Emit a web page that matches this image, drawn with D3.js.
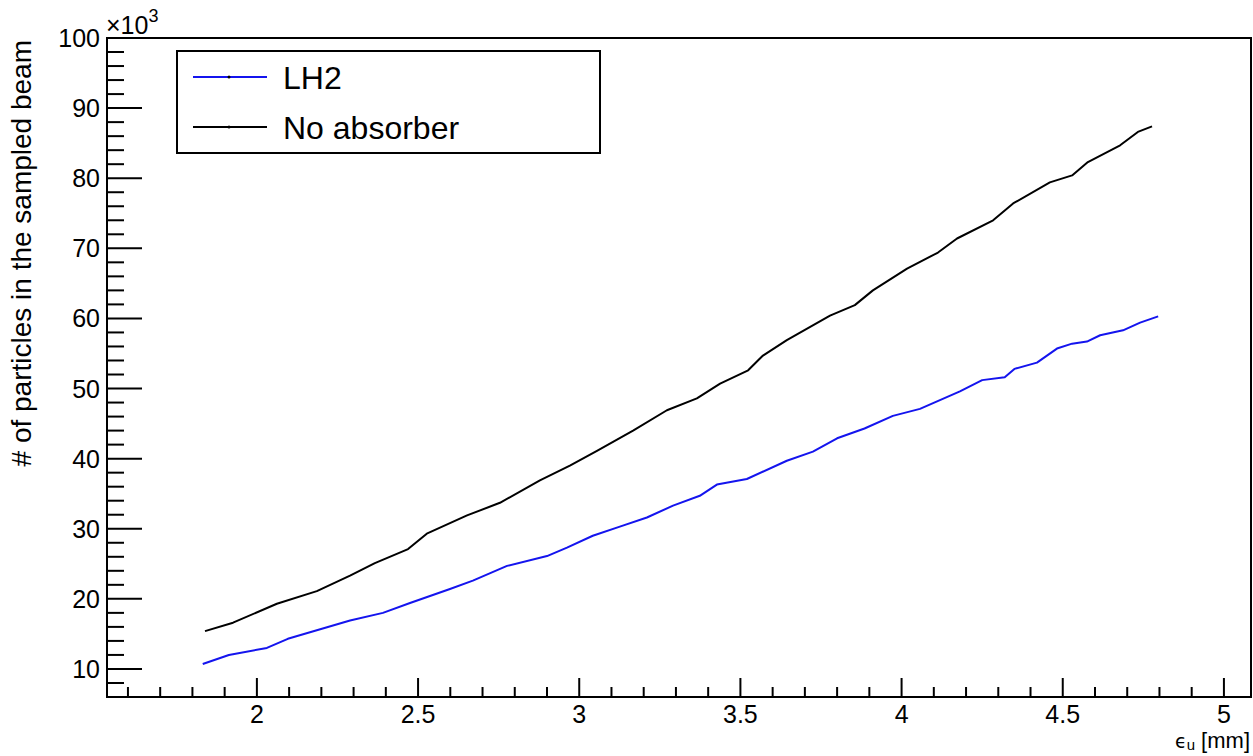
<!DOCTYPE html>
<html>
<head>
<meta charset="utf-8">
<script src="https://cdn.jsdelivr.net/npm/d3@7"></script>
<style>
  html, body { margin: 0; padding: 0; background: #fff; }
  svg { display: block; font-family: "Liberation Sans", Arial, Helvetica, sans-serif; }
</style>
</head>
<body>
<svg id="chart" width="1253" height="756"></svg>
<script>
// Emittance (mm) and number of particles (x10^3) in the sampled beam
const lh2Emittance = [1.832, 1.913, 2.031, 2.096, 2.289, 2.391, 2.475, 2.599, 2.670, 2.776,
  2.900, 2.962, 3.042, 3.126, 3.210, 3.291, 3.374, 3.427, 3.520, 3.644,
  3.725, 3.800, 3.885, 3.973, 4.057, 4.181, 4.250, 4.320, 4.350, 4.420,
  4.482, 4.529, 4.575, 4.616, 4.687, 4.740, 4.796];
const lh2Particles = [10.7, 12.0, 13.0, 14.3, 16.9, 18.0, 19.4, 21.4, 22.6, 24.7,
  26.1, 27.3, 29.0, 30.3, 31.6, 33.3, 34.7, 36.3, 37.1, 39.7,
  41.0, 42.9, 44.3, 46.1, 47.1, 49.6, 51.2, 51.6, 52.8, 53.7,
  55.7, 56.4, 56.7, 57.6, 58.3, 59.4, 60.3];

const noAbsEmittance = [1.839, 1.926, 2.062, 2.186, 2.289, 2.366, 2.469, 2.527, 2.652, 2.754,
  2.878, 2.971, 3.055, 3.167, 3.272, 3.365, 3.437, 3.524, 3.570, 3.644,
  3.778, 3.855, 3.911, 4.017, 4.113, 4.172, 4.284, 4.346, 4.460, 4.529,
  4.578, 4.678, 4.733, 4.777];
const noAbsParticles = [15.4, 16.6, 19.3, 21.1, 23.3, 25.1, 27.1, 29.3, 31.9, 33.7,
  36.9, 39.0, 41.1, 44.0, 46.9, 48.6, 50.7, 52.6, 54.7, 56.9,
  60.4, 61.9, 64.0, 67.1, 69.4, 71.4, 74.0, 76.4, 79.4, 80.4,
  82.3, 84.7, 86.6, 87.4];

const xTickLabels = [2, 2.5, 3, 3.5, 4, 4.5, 5];
const yTickLabels = [10, 20, 30, 40, 50, 60, 70, 80, 90, 100];
const xMinorTicks = d3.range(16, 51).map(v => v / 10);
const yMinorTicks = d3.range(6, 101, 2);

const seriesNames = ["LH2", "No absorber"];
const seriesColors = ["#1414ee", "#000000"];

const frame = { left: 107, right: 1251, top: 38, bottom: 697 };

const svg = d3.select("#chart");

const x = d3.scaleLinear().domain([1.535, 5.084]).range([frame.left, frame.right]);
const y = d3.scaleLinear().domain([6, 100]).range([frame.bottom, frame.top]);

// Frame
svg.append("rect")
  .attr("x", frame.left).attr("y", frame.top)
  .attr("width", frame.right - frame.left).attr("height", frame.bottom - frame.top)
  .attr("fill", "none").attr("stroke", "#000").attr("stroke-width", 2);

// X axis ticks (major every 0.5, minor every 0.1)
const xAxisG = svg.append("g");
xAxisG.selectAll("line").data(xMinorTicks).join("line")
  .attr("x1", d => x(d)).attr("x2", d => x(d))
  .attr("y1", frame.bottom).attr("y2", d => frame.bottom - (Math.abs(d * 2 - Math.round(d * 2)) < 1e-6 ? 19 : 10))
  .attr("stroke", "#000").attr("stroke-width", 2);
xAxisG.selectAll("text").data(xTickLabels).join("text")
  .attr("x", d => x(d)).attr("y", 723)
  .attr("text-anchor", "middle").attr("font-size", 25)
  .text(d => d3.format("~g")(d));

// Y axis ticks (major every 10, minor every 2)
const yAxisG = svg.append("g");
yAxisG.selectAll("line").data(yMinorTicks).join("line")
  .attr("x1", frame.left).attr("x2", d => frame.left + (d % 10 === 0 ? 35 : 17))
  .attr("y1", d => y(d)).attr("y2", d => y(d))
  .attr("stroke", "#000").attr("stroke-width", 2);
yAxisG.selectAll("text").data(yTickLabels).join("text")
  .attr("x", 100).attr("y", d => y(d))
  .attr("dy", "0.36em")
  .attr("text-anchor", "end").attr("font-size", 25)
  .text(d => d);

// Exponent label
const expo = svg.append("text").attr("x", 106).attr("y", 34).attr("font-size", 25);
expo.append("tspan").text("×10");
expo.append("tspan").attr("font-size", 18).attr("dy", -12).text("3");

// Axis titles
svg.append("text")
  .attr("transform", `translate(31,40) rotate(-90)`)
  .attr("text-anchor", "end").attr("font-size", 28)
  .text("# of particles in the sampled beam");

const xt = svg.append("text").attr("x", 1250).attr("y", 748)
  .attr("text-anchor", "end").attr("font-size", 22);
xt.append("tspan").attr("font-family", "DejaVu Sans").attr("font-size", 19).text("ϵ");
xt.append("tspan").attr("font-size", 15).attr("dy", 2).text("u");
xt.append("tspan").attr("dy", -2).text(" [mm]");

// Data lines
const line = d3.line().x(d => x(d[0])).y(d => y(d[1]));
const series = [
  d3.zip(lh2Emittance, lh2Particles),
  d3.zip(noAbsEmittance, noAbsParticles)
];
const plot = svg.append("g");
plot.selectAll("path").data(series).join("path")
  .attr("d", line)
  .attr("fill", "none")
  .attr("stroke", (d, i) => seriesColors[i])
  .attr("stroke-width", 2)
  .attr("stroke-linejoin", "round");

// Legend
const legend = svg.append("g");
legend.append("rect")
  .attr("x", 177).attr("y", 51).attr("width", 423).attr("height", 102)
  .attr("fill", "#fff").attr("stroke", "#000").attr("stroke-width", 2);
const rows = legend.selectAll("g.row").data(seriesNames).join("g")
  .attr("transform", (d, i) => `translate(0, ${77 + i * 50})`);
rows.append("line")
  .attr("x1", 193).attr("x2", 267).attr("y1", 0).attr("y2", 0)
  .attr("stroke", (d, i) => seriesColors[i]).attr("stroke-width", 2);
rows.append("circle")
  .attr("cx", 229).attr("cy", 0).attr("r", 1.5)
  .attr("fill", "#000");
rows.append("text")
  .attr("x", 283).attr("y", 0).attr("dy", "0.36em")
  .attr("font-size", 32)
  .text(d => d);
</script>
</body>
</html>
